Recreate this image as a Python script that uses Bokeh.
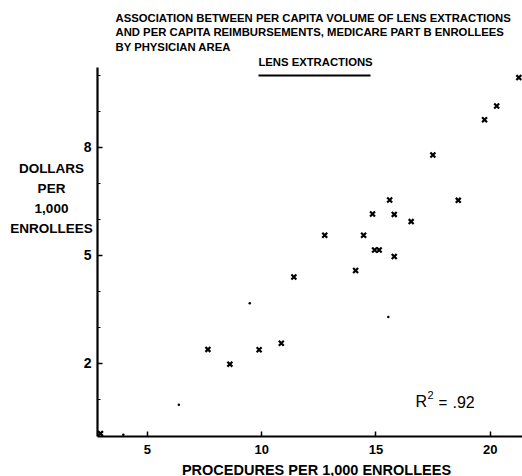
from bokeh.plotting import figure
from bokeh.models import Label, FixedTicker, Range1d, BoxAnnotation, ColumnDataSource
from bokeh.embed import file_html
from bokeh.resources import INLINE

# Lens extractions per 1,000 enrollees vs. reimbursement dollars per 1,000 enrollees
procedures = [21.25, 20.28, 19.75, 17.49, 15.60, 18.60, 14.85, 15.80, 16.54, 12.76,
              14.46, 14.94, 15.14, 15.80, 14.11, 11.41, 10.86, 7.65, 9.89, 8.61, 2.95]
dollars = [9.94, 9.15, 8.77, 7.79, 6.54, 6.53, 6.15, 6.14, 5.94, 5.56,
           5.56, 5.15, 5.15, 4.97, 4.58, 4.40, 2.56, 2.39, 2.38, 1.98, 0.05]

# faintly printed areas
faint_procedures = [6.38, 9.48, 15.54, 3.95]
faint_dollars = [0.85, 3.67, 3.29, 0.02]

x_ticks = [5, 10, 15, 20]
y_ticks = [2, 5, 8]
y_minor = [1, 2, 3, 4, 5, 6, 7, 8, 9, 10]
x_bounds = (2.82, 21.41)
y_bounds = (-0.03, 10.22)

title_lines = [
    "ASSOCIATION BETWEEN PER CAPITA VOLUME OF LENS EXTRACTIONS",
    "AND PER CAPITA REIMBURSEMENTS, MEDICARE PART B ENROLLEES",
    "BY PHYSICIAN AREA",
]
subtitle = "LENS EXTRACTIONS"
y_label_lines = ["DOLLARS", "PER", "1,000", "ENROLLEES"]
x_label = "PROCEDURES PER 1,000 ENROLLEES"
r_squared = ".92"

FONT = "Liberation Sans"
W, H = 522, 476
AXIS_LEFT_PX, AXIS_BOTTOM_PX, AXIS_TOP_PX = 97, 436, 67

# The frame fills the whole canvas; axes sit at fixed locations inside it.
x_per_px = (x_bounds[1] - x_bounds[0]) / (W - AXIS_LEFT_PX)
y_per_px = (y_bounds[1] - y_bounds[0]) / (AXIS_BOTTOM_PX - AXIS_TOP_PX)
x_range = Range1d(x_bounds[0] - AXIS_LEFT_PX * x_per_px, x_bounds[1])
y_range = Range1d(y_bounds[0] - (H - AXIS_BOTTOM_PX) * y_per_px,
                  y_bounds[1] + AXIS_TOP_PX * y_per_px)

p = figure(width=W, height=H, output_backend="svg", toolbar_location=None, title=None,
           x_range=x_range, y_range=y_range,
           min_border_left=0, min_border_right=0, min_border_top=0, min_border_bottom=0)
p.outline_line_color = None
p.grid.visible = False
p.background_fill_color = "white"
p.border_fill_color = "white"

for ax in (p.xaxis[0], p.yaxis[0]):
    ax.axis_line_width = 2.2
    ax.axis_line_color = "black"
    ax.major_tick_out = 0
    ax.major_tick_in = 5
    ax.major_tick_line_width = 1.5
    ax.minor_tick_out = 0
    ax.minor_tick_in = 3
    ax.minor_tick_line_width = 1.2
    ax.major_label_text_font = FONT
    ax.major_label_text_font_style = "bold"
    ax.major_label_text_color = "black"

p.xaxis.fixed_location = y_bounds[0]
p.xaxis.bounds = x_bounds
p.xaxis.ticker = FixedTicker(ticks=x_ticks)
p.xaxis.minor_tick_line_color = None
p.xaxis.major_label_text_font_size = "13px"
p.xaxis.major_label_standoff = 8

p.yaxis.fixed_location = x_bounds[0]
p.yaxis.bounds = y_bounds
p.yaxis.ticker = FixedTicker(ticks=y_ticks, minor_ticks=y_minor)
p.yaxis.major_label_text_font_size = "14px"
p.yaxis.major_label_standoff = 6

src = ColumnDataSource(dict(x=procedures, y=dollars))
p.scatter("x", "y", source=src, marker="x", size=7, line_width=2.2, color="black")
p.scatter(faint_procedures, faint_dollars, marker="circle", size=2.5,
          color="black", line_color=None)


def note(text, cx, cy, size, align="left", bold=True):
    # place text by canvas pixel position
    p.add_layout(Label(x=cx, y=H - cy, x_units="screen", y_units="screen",
                       text=text, text_font=FONT, text_font_size=f"{size}px",
                       text_font_style="bold" if bold else "normal",
                       text_align=align, text_baseline="middle", text_color="black"))


for i, line in enumerate(title_lines):
    note(line, 115, 17 + 14.5 * i, 11.3)

note(subtitle, 315, 61, 11.3, align="center")
p.add_layout(BoxAnnotation(left=258, right=370, top=H - 74, bottom=H - 76,
                           left_units="screen", right_units="screen",
                           top_units="screen", bottom_units="screen",
                           fill_color="black", fill_alpha=1, line_color=None))

for i, line in enumerate(y_label_lines):
    note(line, 51, 167.5 + 20 * i, 13.5, align="center")

note(x_label, 316, 469, 14.5, align="center")

note("R", 415, 401, 16, bold=False)
note("2", 427, 394, 11, bold=False)
note("=", 438, 402, 15, bold=False)
note(r_squared, 452, 401, 16, bold=False)

open("out.html", "w").write(file_html(p, INLINE))
